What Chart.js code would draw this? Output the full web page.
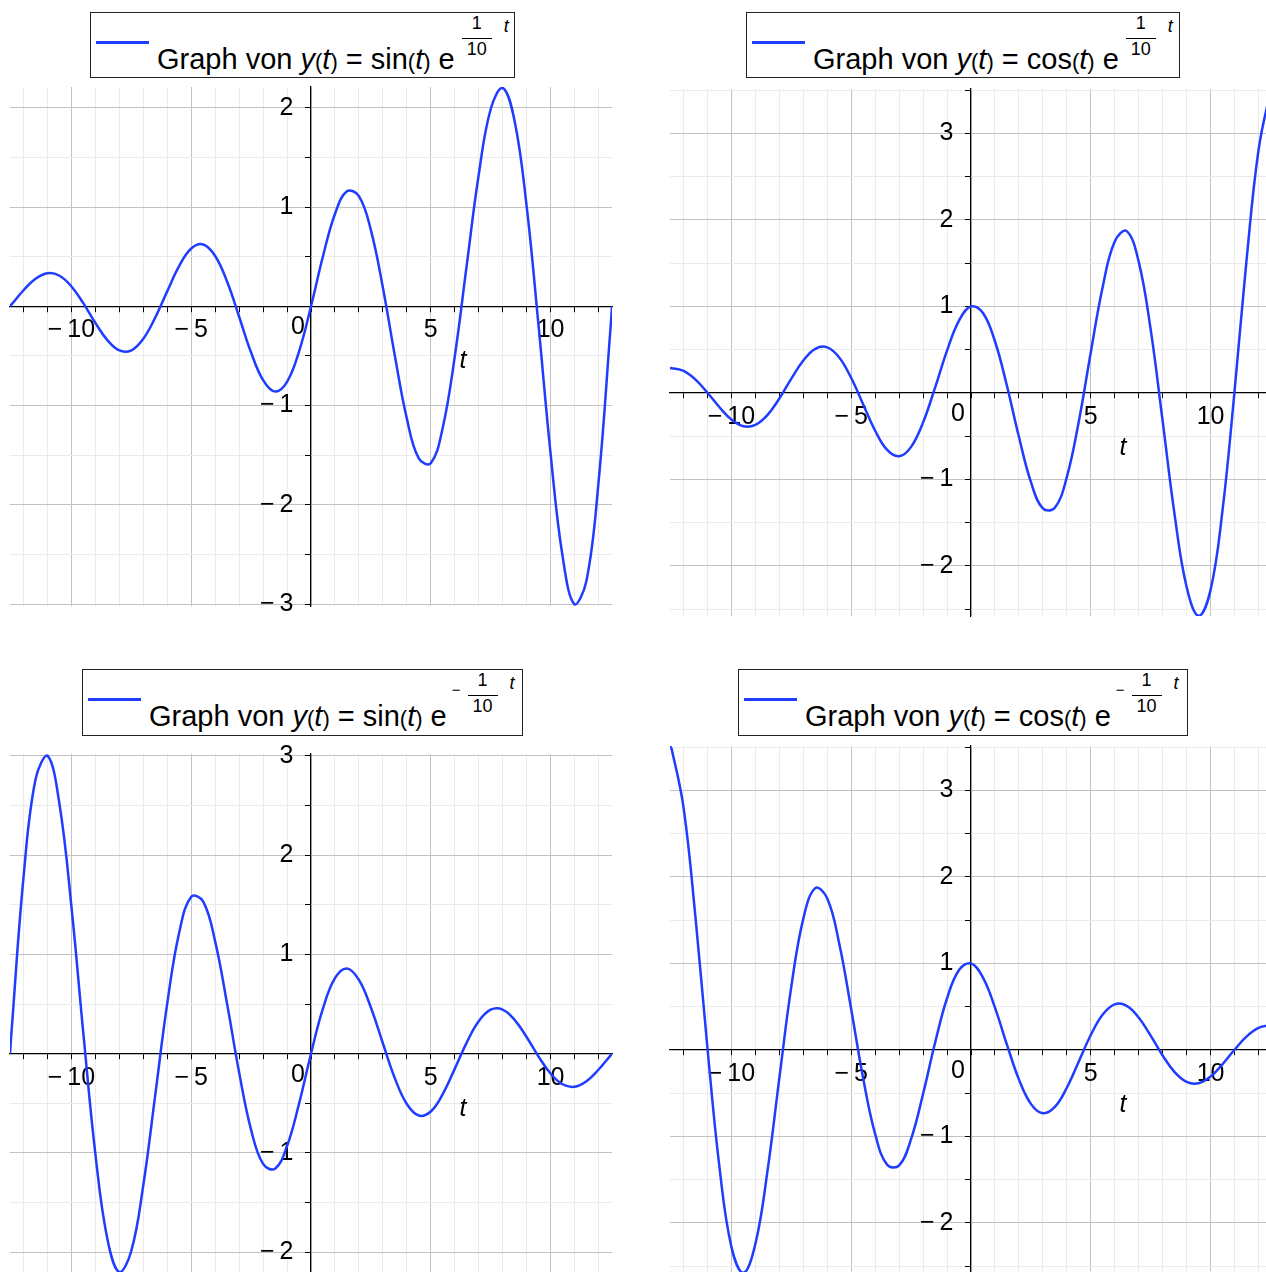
<!DOCTYPE html>
<html>
<head>
<meta charset="utf-8">
<script src="https://cdn.jsdelivr.net/npm/chart.js@4.4.0/dist/chart.umd.min.js"></script>
<style>
  body { margin: 0; background: #fff; width: 1266px; height: 1272px; overflow: hidden; position: relative;
         font-family: 'Liberation Sans', Arial, sans-serif; color: #000; }
  .panel { position: absolute; }
  .leg { position: absolute; border: 1px solid #222; background: #fff; box-sizing: border-box; }
  .leg .sw { position: absolute; left: 5px; top: 28px; width: 53px; height: 3px; background: #1f3cff; }
  .leg .txt { position: absolute; left: 66px; top: 32px; font-size: 29px; line-height: 29px; white-space: nowrap; }
  .leg .p { font-size: 22px; }
  .leg .sup { position: relative; display: inline-block; width: 60px; height: 0; }
  .leg .inner { position: absolute; left: 0; top: -55px; display: flex; align-items: flex-start; font-size: 18px; line-height: 17px; white-space: nowrap; }
  .leg .mi { margin-top: 10px; margin-left: 5px; font-size: 15px; }
  .leg .fr { margin-left: 7px; margin-top: 1px; text-align: center; }
  .leg .fr .n { display: block; padding: 0 5px 6px; border-bottom: 1.5px solid #000; }
  .leg .fr .d { display: block; padding: 2px 5px 0; }
  .leg .tt { margin-left: 12px; margin-top: 4px; font-style: italic; }
</style>
</head>
<body>

<div class="panel" style="left:-20px;top:57px;width:662px;height:579px"><canvas id="c1"></canvas></div>
<div class="panel" style="left:640px;top:59px;width:662px;height:587px"><canvas id="c2"></canvas></div>
<div class="panel" style="left:-20px;top:724px;width:662px;height:579px"><canvas id="c3"></canvas></div>
<div class="panel" style="left:640px;top:716px;width:662px;height:587px"><canvas id="c4"></canvas></div>

<div class="leg" style="left:90px;top:12px;width:425px;height:66px">
  <span class="sw"></span>
  <span class="txt">Graph von <i>y</i><span class="p">(</span><i>t</i><span class="p">)</span> = sin<span class="p">(</span><i>t</i><span class="p">)</span> e<span class="sup"><span class="inner"><span class="fr"><span class="n">1</span><span class="d">10</span></span><span class="tt">t</span></span></span></span>
</div>
<div class="leg" style="left:746px;top:12px;width:434px;height:66px">
  <span class="sw"></span>
  <span class="txt">Graph von <i>y</i><span class="p">(</span><i>t</i><span class="p">)</span> = cos<span class="p">(</span><i>t</i><span class="p">)</span> e<span class="sup"><span class="inner"><span class="fr"><span class="n">1</span><span class="d">10</span></span><span class="tt">t</span></span></span></span>
</div>
<div class="leg" style="left:82px;top:669px;width:441px;height:67px">
  <span class="sw"></span>
  <span class="txt">Graph von <i>y</i><span class="p">(</span><i>t</i><span class="p">)</span> = sin<span class="p">(</span><i>t</i><span class="p">)</span> e<span class="sup"><span class="inner"><span class="mi">&minus;</span><span class="fr"><span class="n">1</span><span class="d">10</span></span><span class="tt">t</span></span></span></span>
</div>
<div class="leg" style="left:738px;top:669px;width:450px;height:67px">
  <span class="sw"></span>
  <span class="txt">Graph von <i>y</i><span class="p">(</span><i>t</i><span class="p">)</span> = cos<span class="p">(</span><i>t</i><span class="p">)</span> e<span class="sup"><span class="inner"><span class="mi">&minus;</span><span class="fr"><span class="n">1</span><span class="d">10</span></span><span class="tt">t</span></span></span></span>
</div>

<script>
// sample points t (from -4*pi to 4*pi)
const tValues = [-12.566, -12.5, -12, -11.5, -11, -10.5, -10, -9.5, -9, -8.5, -8, -7.5, -7, -6.5, -6, -5.5, -5, -4.5, -4, -3.5, -3, -2.5, -2, -1.5, -1, -0.5,
  0, 0.5, 1, 1.5, 2, 2.5, 3, 3.5, 4, 4.5, 5, 5.5, 6, 6.5, 7, 7.5, 8, 8.5, 9, 9.5, 10, 10.5, 11, 11.5, 12, 12.5, 12.566];

// y = sin(t) e^(t/10)
const sinGrowth = [0, 0.019, 0.162, 0.277, 0.333, 0.308, 0.200, 0.029, -0.168, -0.341, -0.445, -0.443, -0.326, -0.112, 0.153, 0.407, 0.582, 0.623, 0.507, 0.247, -0.105, -0.466, -0.744, -0.859, -0.761, -0.456,
  0, 0.504, 0.930, 1.159, 1.111, 0.768, 0.190, -0.498, -1.129, -1.533, -1.581, -1.223, -0.509, 0.412, 1.323, 1.986, 2.202, 1.868, 1.014, -0.194, -1.479, -2.514, -3.004, -2.765, -1.782, -0.231, 0];

// y = cos(t) e^(t/10)
const cosGrowth = [0.285, 0.286, 0.254, 0.153, 0.001, -0.166, -0.309, -0.386, -0.370, -0.257, -0.065, 0.164, 0.374, 0.510, 0.527, 0.409, 0.172, -0.134, -0.438, -0.660, -0.733, -0.624, -0.341, 0.061, 0.489, 0.835,
  1, 0.923, 0.597, 0.082, -0.508, -1.029, -1.336, -1.329, -0.975, -0.331, 0.468, 1.228, 1.750, 1.871, 1.518, 0.734, -0.324, -1.408, -2.241, -2.578, -2.281, -1.359, 0.013, 1.526, 2.802, 3.483, 3.514];

// y = sin(t) e^(-t/10)
const sinDecay = [0, 0.231, 1.782, 2.765, 3.004, 2.514, 1.479, 0.194, -1.014, -1.868, -2.202, -1.986, -1.323, -0.412, 0.509, 1.223, 1.581, 1.533, 1.129, 0.498, -0.190, -0.768, -1.111, -1.159, -0.930, -0.504,
  0, 0.456, 0.761, 0.859, 0.744, 0.466, 0.105, -0.247, -0.507, -0.623, -0.582, -0.407, -0.153, 0.112, 0.326, 0.443, 0.445, 0.341, 0.168, -0.029, -0.200, -0.308, -0.333, -0.277, -0.162, -0.019, 0];

// y = cos(t) e^(-t/10)
const cosDecay = [3.514, 3.483, 2.802, 1.526, 0.013, -1.359, -2.281, -2.578, -2.241, -1.408, -0.324, 0.734, 1.518, 1.871, 1.750, 1.228, 0.468, -0.331, -0.975, -1.329, -1.336, -1.029, -0.508, 0.082, 0.597, 0.923,
  1, 0.835, 0.489, 0.061, -0.341, -0.624, -0.733, -0.660, -0.438, -0.134, 0.172, 0.409, 0.527, 0.510, 0.374, 0.164, -0.065, -0.257, -0.370, -0.386, -0.309, -0.166, 0.001, 0.153, 0.254, 0.286, 0.285];

const xTickLabels = [-10, -5, 5, 10];
const yTickLabelsSin = [-3, -2, -1, 1, 2];
const yTickLabelsOther = [-2, -1, 1, 2, 3];

const FONT = "'Liberation Sans', Arial, sans-serif";
const LINE_COLOR = '#1f3cff';

function fmt(v) {
    return v < 0 ? '\u2212\u2009' + Math.abs(v) : String(v);
}

// "0" at the origin and the axis name "t"
const axisText = {
    id: 'axisText',
    beforeDatasetsDraw(chart) {
        const ctx = chart.ctx;
        const x0 = chart.scales.x.getPixelForValue(0);
        const y0 = chart.scales.y.getPixelForValue(0);
        ctx.save();
        ctx.fillStyle = '#000';
        ctx.textAlign = 'center';
        ctx.textBaseline = 'middle';
        ctx.font = '25px ' + FONT;
        ctx.fillText('0', x0 - 13, y0 + 21);
        ctx.font = 'italic 25px ' + FONT;
        ctx.fillText('t', x0 + 152, y0 + 55);
        ctx.restore();
    }
};

function makePanel(id, values, yMin, yMax, yLabels) {
    const ctx = document.getElementById(id);
    new Chart(ctx, {
        type: 'line',
        data: {
            datasets: [{
                data: tValues.map((t, i) => ({x: t, y: values[i]})),
                borderColor: LINE_COLOR,
                borderWidth: 2.5,
                pointRadius: 0,
                tension: 0.4,
                fill: false
            }]
        },
        options: {
            responsive: true,
            maintainAspectRatio: false,
            animation: false,
            layout: { padding: 30 },
            plugins: {
                legend: { display: false },
                tooltip: { enabled: false }
            },
            scales: {
                x: {
                    type: 'linear',
                    min: -12.566,
                    max: 12.566,
                    position: { y: 0 },
                    afterBuildTicks: function(scale) {
                        const ticks = [];
                        for (let v = -12; v <= 12; v++) ticks.push({ value: v });
                        scale.ticks = ticks;
                    },
                    grid: {
                        color: c => (c.tick && c.tick.value % 5 === 0) ? '#c2c2c2' : '#ebebeb',
                        lineWidth: 1,
                        tickLength: 5,
                        tickColor: '#000'
                    },
                    border: { display: true, color: '#000', width: 1.2 },
                    ticks: {
                        autoSkip: false,
                        maxRotation: 0,
                        padding: 4,
                        color: '#000',
                        font: { family: FONT, size: 25 },
                        callback: v => xTickLabels.includes(v) ? fmt(v) : ''
                    }
                },
                y: {
                    type: 'linear',
                    min: yMin,
                    max: yMax,
                    position: { x: 0 },
                    afterBuildTicks: function(scale) {
                        const ticks = [];
                        for (let v = Math.ceil(yMin * 2); v <= Math.floor(yMax * 2); v++) ticks.push({ value: v / 2 });
                        scale.ticks = ticks;
                    },
                    grid: {
                        color: c => (c.tick && Number.isInteger(c.tick.value)) ? '#c2c2c2' : '#ebebeb',
                        lineWidth: 1,
                        tickLength: 5,
                        tickColor: '#000'
                    },
                    border: { display: true, color: '#000', width: 1.2 },
                    ticks: {
                        autoSkip: false,
                        padding: 8,
                        color: '#000',
                        font: { family: FONT, size: 25 },
                        // labels of a centred y axis sit on the axis line, so pad them with spaces
                        callback: v => yLabels.includes(v) ? fmt(v) + '\u2002\u2009' : ''
                    }
                }
            }
        },
        plugins: [axisText]
    });
}

document.addEventListener('DOMContentLoaded', function() {
    makePanel('c1', sinGrowth, -3.02, 2.21, yTickLabelsSin);
    makePanel('c2', cosGrowth, -2.58, 3.514, yTickLabelsOther);
    makePanel('c3', sinDecay, -2.21, 3.02, yTickLabelsOther);
    makePanel('c4', cosDecay, -2.58, 3.514, yTickLabelsOther);
});
</script>
</body>
</html>
